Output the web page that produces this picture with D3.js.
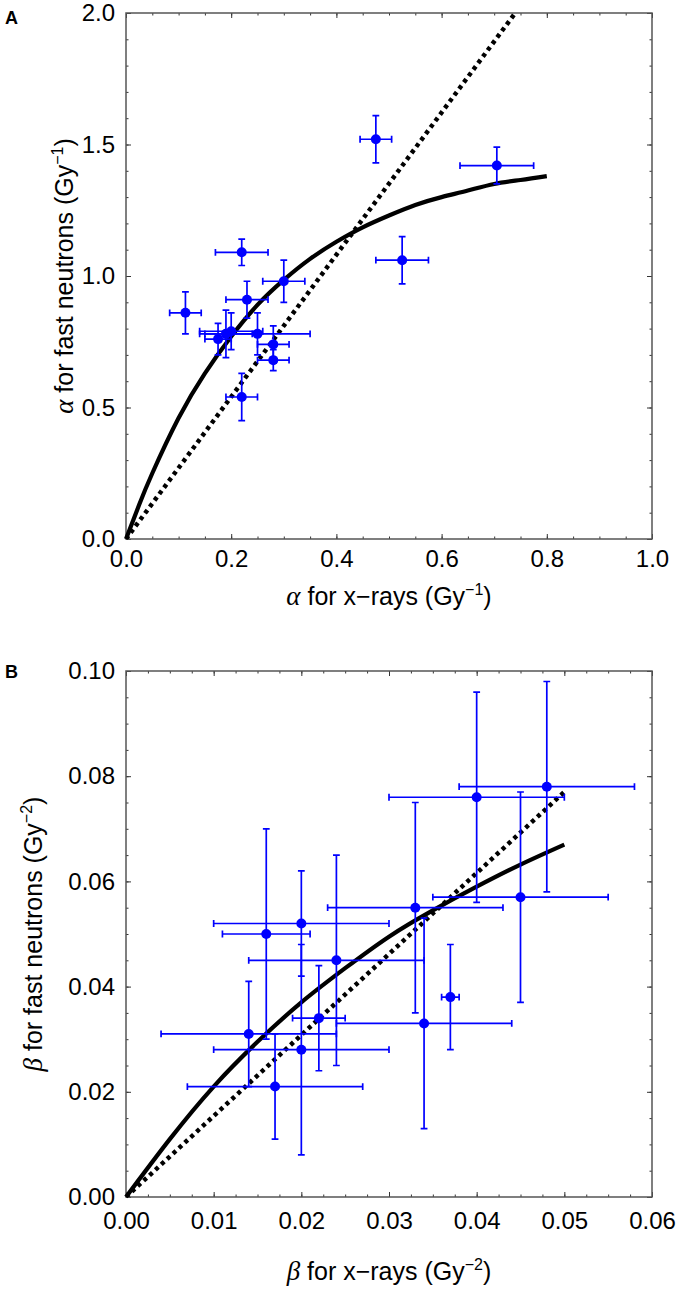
<!DOCTYPE html>
<html>
<head>
<meta charset="utf-8">
<script src="https://cdn.jsdelivr.net/npm/d3@7"></script>
<style>
  body { margin: 0; background: #fff; }
  svg { display: block; }
  .tick text { font-family: "Liberation Sans", Arial, sans-serif; fill: #000; }
  .tick line { stroke: #333; }
</style>
</head>
<body>
<svg id="chart" width="686" height="1294"></svg>
<script>
// ---- panel A : alpha ----
const alphaX    = [ 0.113, 0.175, 0.19, 0.20, 0.22, 0.23, 0.22, 0.25, 0.28, 0.28, 0.30, 0.475, 0.525, 0.705 ];
const alphaY    = [ 0.86, 0.76, 0.78, 0.79, 1.09, 0.91, 0.54, 0.78, 0.74, 0.68, 0.98, 1.52, 1.06, 1.42 ];
const alphaXErr = [ 0.03, 0.025, 0.05, 0.06, 0.05, 0.04, 0.03, 0.10, 0.03, 0.03, 0.04, 0.03, 0.05, 0.07 ];
const alphaYErr = [ 0.08, 0.06, 0.09, 0.07, 0.05, 0.07, 0.09, 0.08, 0.07, 0.04, 0.08, 0.09, 0.09, 0.07 ];
const alphaFitX = [ 0, 0.025, 0.05, 0.1, 0.15, 0.2, 0.25, 0.3, 0.35, 0.4, 0.45, 0.5, 0.55, 0.6, 0.65, 0.7, 0.75, 0.8 ];
const alphaFitY = [ 0, 0.13, 0.25, 0.46, 0.63, 0.77, 0.89, 0.985, 1.065, 1.13, 1.185, 1.23, 1.27, 1.30, 1.325, 1.35, 1.365, 1.38 ];
const alphaLineX = [ 0, 0.74 ];
const alphaLineY = [ 0, 2.0 ];
const alphaXTicks = [ 0, 0.2, 0.4, 0.6, 0.8, 1.0 ];
const alphaYTicks = [ 0, 0.5, 1.0, 1.5, 2.0 ];

// ---- panel B : beta ----
const betaX    = [ 0.014, 0.016, 0.017, 0.020, 0.020, 0.022, 0.024, 0.033, 0.034, 0.037, 0.040, 0.045, 0.048 ];
const betaY    = [ 0.031, 0.050, 0.021, 0.052, 0.028, 0.034, 0.045, 0.055, 0.033, 0.038, 0.076, 0.057, 0.078 ];
const betaXErr = [ 0.010, 0.005, 0.010, 0.010, 0.010, 0.003, 0.010, 0.010, 0.010, 0.001, 0.010, 0.010, 0.010 ];
const betaYErr = [ 0.010, 0.020, 0.010, 0.010, 0.020, 0.010, 0.020, 0.020, 0.020, 0.010, 0.020, 0.020, 0.020 ];
const betaFitX = [ 0, 0.005, 0.01, 0.015, 0.02, 0.025, 0.03, 0.035, 0.04, 0.045, 0.05 ];
const betaFitY = [ 0, 0.011, 0.021, 0.0295, 0.037, 0.0435, 0.0495, 0.0545, 0.059, 0.0632, 0.067 ];
const betaLineX = [ 0, 0.05 ];
const betaLineY = [ 0, 0.077 ];
const betaXTicks = [ 0, 0.01, 0.02, 0.03, 0.04, 0.05, 0.06 ];
const betaYTicks = [ 0, 0.02, 0.04, 0.06, 0.08, 0.10 ];

const svg = d3.select( "#chart" );
const SIZE = 526;
const BLUE = "#0000ff";

function panel( opt ) {
  const g = svg.append( "g" ).attr( "transform", `translate(${opt.left},${opt.top})` );

  const x = d3.scaleLinear().domain( opt.xDomain ).range( [ 0, SIZE ] );
  const y = d3.scaleLinear().domain( opt.yDomain ).range( [ SIZE, 0 ] );

  const addAxis = ( axisFn, scale, values, size, transform, fmt, pad ) => {
    const a = g.append( "g" )
      .attr( "transform", transform )
      .call( axisFn( scale ).tickValues( values ).tickSize( -size ).tickPadding( pad || 0 )
        .tickFormat( fmt || "" ) );
    a.select( ".domain" ).remove();
    a.selectAll( "text" ).style( "font-size", "24px" );
    return a;
  };

  // minor ticks on all sides
  addAxis( d3.axisBottom, x, opt.xMinor, 2.5, `translate(0,${SIZE})` );
  addAxis( d3.axisTop, x, opt.xMinor, 2.5, "translate(0,0)" );
  addAxis( d3.axisLeft, y, opt.yMinor, 2.5, "translate(0,0)" );
  addAxis( d3.axisRight, y, opt.yMinor, 2.5, `translate(${SIZE},0)` );
  // major ticks
  addAxis( d3.axisBottom, x, opt.xTicks, 5, `translate(0,${SIZE})`, d3.format( opt.fmt ), opt.xPad );
  addAxis( d3.axisTop, x, opt.xTicks, 5, "translate(0,0)" );
  addAxis( d3.axisLeft, y, opt.yTicks, 5, "translate(0,0)", d3.format( opt.fmt ), 11 );
  addAxis( d3.axisRight, y, opt.yTicks, 5, `translate(${SIZE},0)` );

  g.append( "rect" )
    .attr( "width", SIZE )
    .attr( "height", SIZE )
    .attr( "fill", "none" )
    .attr( "stroke", "#555" )
    .attr( "stroke-width", 1.5 );

  const clip = `clip-${opt.name}`;
  g.append( "clipPath" ).attr( "id", clip )
    .append( "rect" ).attr( "width", SIZE ).attr( "height", SIZE );

  const line = d3.line()
    .x( d => x( d[0] ) )
    .y( d => y( d[1] ) );

  // dotted line
  g.append( "path" )
    .attr( "d", line( d3.zip( opt.lineX, opt.lineY ) ) )
    .attr( "clip-path", `url(#${clip})` )
    .attr( "fill", "none" )
    .attr( "stroke", "#000" )
    .attr( "stroke-width", 4.5 )
    .attr( "stroke-dasharray", "4,4" );

  // fitted curve
  g.append( "path" )
    .attr( "d", line.curve( d3.curveNatural )( d3.zip( opt.fitX, opt.fitY ) ) )
    .attr( "fill", "none" )
    .attr( "stroke", "#000" )
    .attr( "stroke-width", 4.2 );

  // error bars
  const pts = opt.px.map( ( v, i ) => ( { x: v, y: opt.py[i], ex: opt.ex[i], ey: opt.ey[i] } ) );
  const cap = 3.4;
  const eb = g.append( "g" ).attr( "stroke", BLUE ).attr( "stroke-width", 1.7 ).attr( "fill", "none" );
  pts.forEach( d => {
    const cx = x( d.x ), cy = y( d.y );
    const x0 = x( d.x - d.ex ), x1 = x( d.x + d.ex );
    const y0 = y( d.y - d.ey ), y1 = y( d.y + d.ey );
    eb.append( "path" ).attr( "d",
      `M${x0},${cy}H${x1}M${x0},${cy - cap}V${cy + cap}M${x1},${cy - cap}V${cy + cap}` +
      `M${cx},${y0}V${y1}M${cx - cap},${y0}H${cx + cap}M${cx - cap},${y1}H${cx + cap}` );
  } );

  g.selectAll( "circle.pt" )
    .data( pts )
    .enter()
    .append( "circle" )
    .attr( "class", "pt" )
    .attr( "cx", d => x( d.x ) )
    .attr( "cy", d => y( d.y ) )
    .attr( "r", 5 )
    .attr( "fill", BLUE );

  // axis titles
  const title = ( sel, sym, rest, sup ) => {
    sel.append( "tspan" )
      .text( sym )
      .style( "font-family", "'Liberation Serif', 'DejaVu Serif', serif" )
      .style( "font-style", "italic" )
      .style( "font-size", "27px" );
    sel.append( "tspan" ).text( ` ${rest} (Gy` );
    sel.append( "tspan" ).text( sup ).attr( "dy", -10 ).style( "font-size", "16px" );
    sel.append( "tspan" ).text( ")" ).attr( "dy", 10 );
  };

  const xt = g.append( "text" )
    .attr( "x", SIZE / 2 )
    .attr( "y", SIZE + opt.xTitle )
    .attr( "text-anchor", "middle" )
    .style( "font-family", "'Liberation Sans', Arial, sans-serif" )
    .style( "font-size", "25px" );
  title( xt, opt.sym, "for x\u2212rays", opt.sup );

  const yt = g.append( "text" )
    .attr( "transform", `translate(${-opt.yTitle},${SIZE / 2}) rotate(-90)` )
    .attr( "text-anchor", "middle" )
    .style( "font-family", "'Liberation Sans', Arial, sans-serif" )
    .style( "font-size", "25px" );
  title( yt, opt.sym, "for fast neutrons", opt.sup );

  svg.append( "text" )
    .attr( "x", 5 )
    .attr( "y", opt.labelY )
    .text( opt.name )
    .style( "font-family", "'Liberation Sans', Arial, sans-serif" )
    .style( "font-weight", "bold" )
    .style( "font-size", "18px" );
}

panel( {
  name: "A", left: 126, top: 13, labelY: 24,
  xDomain: [ 0, 1 ], yDomain: [ 0, 2 ],
  xTicks: alphaXTicks, yTicks: alphaYTicks,
  xMinor: d3.range( 0, 1.0001, 0.05 ), yMinor: d3.range( 0, 2.0001, 0.1 ),
  fmt: ".1f", sym: "\u03b1", sup: "\u22121",
  xPad: 11, xTitle: 66, yTitle: 53,
  px: alphaX, py: alphaY, ex: alphaXErr, ey: alphaYErr,
  fitX: alphaFitX, fitY: alphaFitY, lineX: alphaLineX, lineY: alphaLineY,
} );

panel( {
  name: "B", left: 126, top: 671, labelY: 678,
  xDomain: [ 0, 0.06 ], yDomain: [ 0, 0.10 ],
  xTicks: betaXTicks, yTicks: betaYTicks,
  xMinor: d3.range( 0, 0.06001, 0.0025 ), yMinor: d3.range( 0, 0.10001, 0.005 ),
  fmt: ".2f", sym: "\u03b2", sup: "\u22122",
  xPad: 15, xTitle: 83, yTitle: 84,
  px: betaX, py: betaY, ex: betaXErr, ey: betaYErr,
  fitX: betaFitX, fitY: betaFitY, lineX: betaLineX, lineY: betaLineY,
} );
</script>
</body>
</html>
